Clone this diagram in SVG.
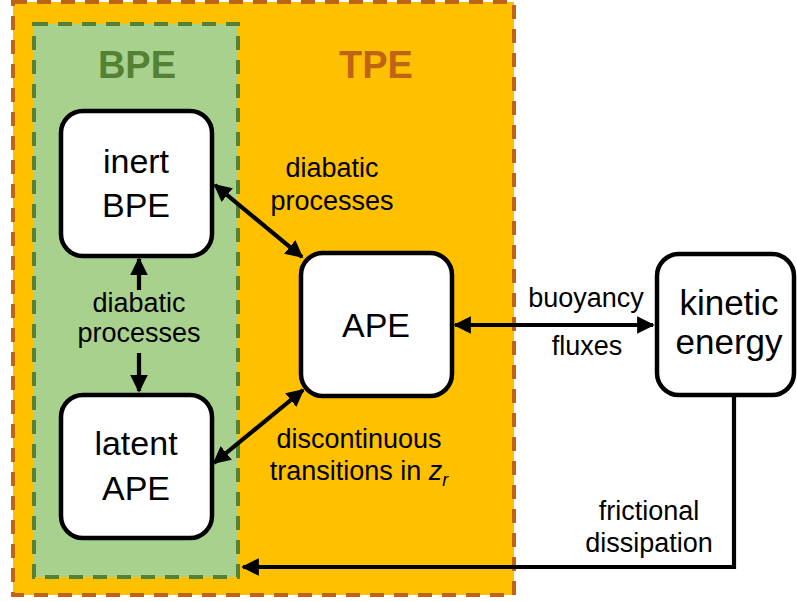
<svg xmlns="http://www.w3.org/2000/svg" width="797" height="601" viewBox="0 0 797 601">
<style>
text{font-family:"Liberation Sans",Arial,sans-serif;fill:#000;text-anchor:middle}
.lbl{font-size:27px}
.node{font-size:34px}
.box{fill:#fff;stroke:#000;stroke-width:4.5}
.con{stroke:#000;stroke-width:4.2;fill:none}
.title{font-size:38px;font-weight:bold}
</style>
<defs>
<marker id="ah" viewBox="0 0 10 10" refX="9" refY="5" markerWidth="4.2" markerHeight="4.2" orient="auto-start-reverse" markerUnits="strokeWidth">
<path d="M0,0 L10,5 L0,10 z" fill="#000"/>
</marker>
</defs>
<g id="tpe">
<rect x="13" y="2" width="501" height="593" fill="#FFC000" stroke="#BF6414" stroke-width="4" stroke-dasharray="14,10"/>
<text class="title" x="376" y="78" style="fill:#BF6414">TPE</text>
</g>
<g id="bpe">
<rect x="34" y="24" width="204" height="553" fill="#A9D18E" stroke="#548235" stroke-width="4" stroke-dasharray="14,10"/>
<text class="title" x="137" y="78" style="fill:#548235">BPE</text>
</g>
<g id="inert">
<rect class="box" x="61" y="111" width="151" height="145" rx="22"/>
<text class="node" x="136" y="173">inert</text>
<text class="node" x="136" y="217">BPE</text>
</g>
<g id="latent">
<rect class="box" x="61" y="395" width="151" height="143" rx="22"/>
<text class="node" x="136" y="455">latent</text>
<text class="node" x="136" y="500">APE</text>
</g>
<g id="ape">
<rect class="box" x="301" y="253" width="151" height="143" rx="22"/>
<text class="node" x="376" y="337">APE</text>
</g>
<g id="ke">
<rect class="box" x="657" y="254" width="137" height="141" rx="22"/>
<text class="node" x="729" y="315" style="font-size:35px">kinetic</text>
<text class="node" x="729" y="354" style="font-size:35px">energy</text>
</g>
<g id="connectors">
<line class="con" x1="139" y1="290" x2="139" y2="259" marker-end="url(#ah)"/>
<line class="con" x1="139" y1="353" x2="139" y2="391" marker-end="url(#ah)"/>
<line class="con" x1="215" y1="185" x2="302" y2="257" marker-start="url(#ah)" marker-end="url(#ah)"/>
<line class="con" x1="214" y1="463" x2="303" y2="390" marker-start="url(#ah)" marker-end="url(#ah)"/>
<line class="con" x1="455" y1="325" x2="653" y2="325" marker-start="url(#ah)" marker-end="url(#ah)"/>
<polyline class="con" points="734,396 734,567 243,567" marker-end="url(#ah)"/>
</g>
<g id="labels">
<text class="lbl" x="139" y="312">diabatic</text>
<text class="lbl" x="139" y="342">processes</text>
<text class="lbl" x="332" y="177">diabatic</text>
<text class="lbl" x="332" y="210">processes</text>
<text class="lbl" x="359" y="448">discontinuous</text>
<text class="lbl" x="359" y="480">transitions in <tspan font-style="italic">z</tspan><tspan font-style="italic" font-size="18" dy="6">r</tspan></text>
<text class="lbl" x="586" y="307">buoyancy</text>
<text class="lbl" x="587" y="355">fluxes</text>
<text class="lbl" x="649" y="520">frictional</text>
<text class="lbl" x="649" y="552">dissipation</text>
</g>
</svg>
